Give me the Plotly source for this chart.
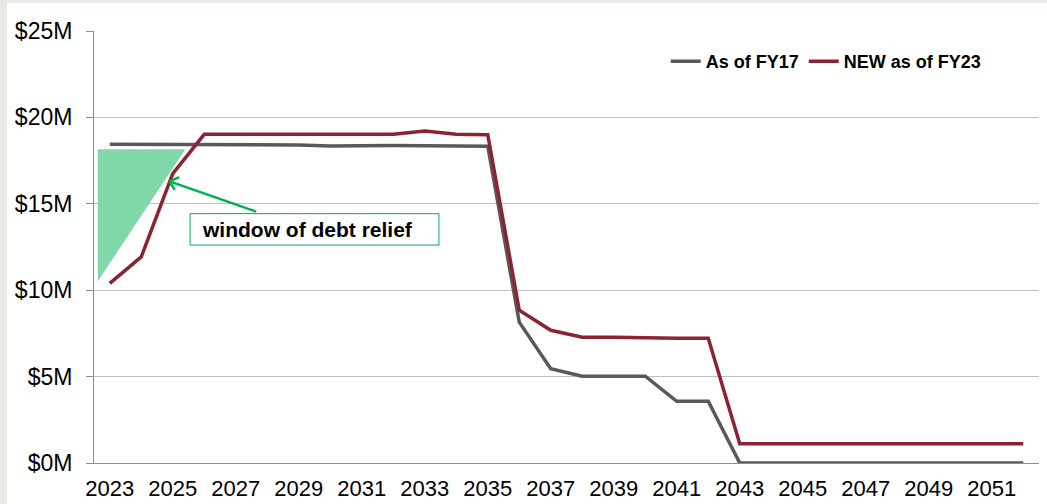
import plotly.graph_objects as go

# Debt service by fiscal year, in $ millions
years = list(range(2023, 2053))
fy17 = [18.45, 18.45, 18.45, 18.45, 18.44, 18.43, 18.41, 18.35, 18.38, 18.37,
        18.36, 18.35, 18.33, 8.15, 5.45, 5.02, 5.02, 5.02, 3.57, 3.57,
        0, 0, 0, 0, 0, 0, 0, 0, 0, 0]
fy23 = [10.39, 11.93, 16.75, 19.02, 19.02, 19.02, 19.02, 19.00, 19.02, 19.02,
        19.21, 19.02, 19.00, 8.84, 7.68, 7.28, 7.27, 7.22, 7.22, 7.22,
        1.12, 1.12, 1.12, 1.12, 1.12, 1.12, 1.12, 1.12, 1.12, 1.12]
series_names = ["As of FY17", "NEW as of FY23"]
y_ticks = [0, 5, 10, 15, 20, 25]
y_labels = [f"${v}M" for v in y_ticks]
x_labels = years[::2]

FONT = "Arial, Liberation Sans, sans-serif"
GRAY = "#595959"
RED = "#8B2332"
GREEN = "#00B050"
AXIS = "#8C8C8C"
GRID = "#C0C0C0"

W, H = 1047, 504
ML, MR, MT, MB = 94, 8, 31, 41
PW, PH = W - ML - MR, H - MT - MB

fig = go.Figure()
fig.add_trace(go.Scatter(x=years, y=fy17, name=series_names[0], mode="lines",
                         line=dict(color=GRAY, width=3.5)))
fig.add_trace(go.Scatter(x=years, y=fy23, name=series_names[1], mode="lines",
                         line=dict(color=RED, width=3.5)))

x_range = [years[0] - 0.5, years[-1] + 0.5]

fig.update_layout(
    width=W, height=H,
    margin=dict(l=ML, r=MR, t=MT, b=MB, autoexpand=False),
    paper_bgcolor="#EAE8E4",
    plot_bgcolor="white",
    font=dict(family=FONT, color="black"),
    showlegend=True,
    legend=dict(orientation="h", x=0.605, y=0.972, xanchor="left", yanchor="top",
                bgcolor="rgba(0,0,0,0)", font=dict(size=18, family=FONT, weight="bold"),
                traceorder="normal", itemwidth=30),
    xaxis=dict(range=x_range, tickmode="array", tickvals=x_labels,
               ticktext=[str(v) for v in x_labels], ticks="",
               showline=True, linecolor=AXIS, linewidth=1, showgrid=False,
               zeroline=False, tickfont=dict(size=22), ticklabelstandoff=6,
               automargin=False),
    xaxis2=dict(range=x_range, overlaying="x", anchor="y", side="bottom",
                tickmode="linear", tick0=x_range[0], dtick=2, ticks="outside",
                ticklen=7, tickcolor=AXIS, showticklabels=False, showgrid=False,
                zeroline=False, showline=False, automargin=False),
    yaxis=dict(range=[0, 25], tickmode="array", tickvals=y_ticks, ticktext=y_labels,
               ticks="outside", ticklen=7, tickcolor=AXIS, showline=True,
               linecolor=AXIS, linewidth=1, showgrid=True, gridcolor=GRID,
               gridwidth=1, zeroline=False, tickfont=dict(size=23),
               ticklabelstandoff=9, automargin=False),
)

# white page panel with a thin tinted frame on the top and left
fig.add_shape(type="rect", xref="paper", yref="paper", layer="below",
              x0=(7 - ML) / PW, x1=(W - ML) / PW,
              y0=(H - MB - H) / PH, y1=(H - MB - 3) / PH,
              fillcolor="white", line=dict(width=0))

# shaded relief window
fig.add_shape(type="path", xref="x", yref="y", layer="above",
              path="M 2022.62 18.15 L 2025.40 18.15 L 2022.62 10.52 Z",
              fillcolor="#80D7A8", line=dict(width=0))

# label box
fig.add_shape(type="rect", xref="x", yref="y",
              x0=2025.55, x1=2033.45, y0=12.61, y1=14.43,
              fillcolor="white", line=dict(color=GREEN, width=1))
fig.add_annotation(x=2025.87, y=13.52, xref="x", yref="y", xanchor="left",
                   yanchor="middle", text="<b>window of debt relief</b>",
                   showarrow=False, font=dict(size=21, color="black", family=FONT))

# arrow shaft
tip_x, tip_y = 2024.90, 16.30
fig.add_annotation(x=tip_x, y=tip_y, ax=2027.70, ay=14.52, xref="x", yref="y",
                   axref="x", ayref="y", text="", showarrow=True, arrowhead=0,
                   arrowwidth=2.5, arrowcolor=GREEN, standoff=0, startstandoff=0)
# open arrow head
for dx, dy in [(11, -5), (6, 10)]:
    fig.add_annotation(x=tip_x, y=tip_y, ax=dx, ay=dy, xref="x", yref="y",
                       text="", showarrow=True, arrowhead=0, arrowwidth=2.5,
                       arrowcolor=GREEN, standoff=0, startstandoff=0)

fig.write_html("out.html")
